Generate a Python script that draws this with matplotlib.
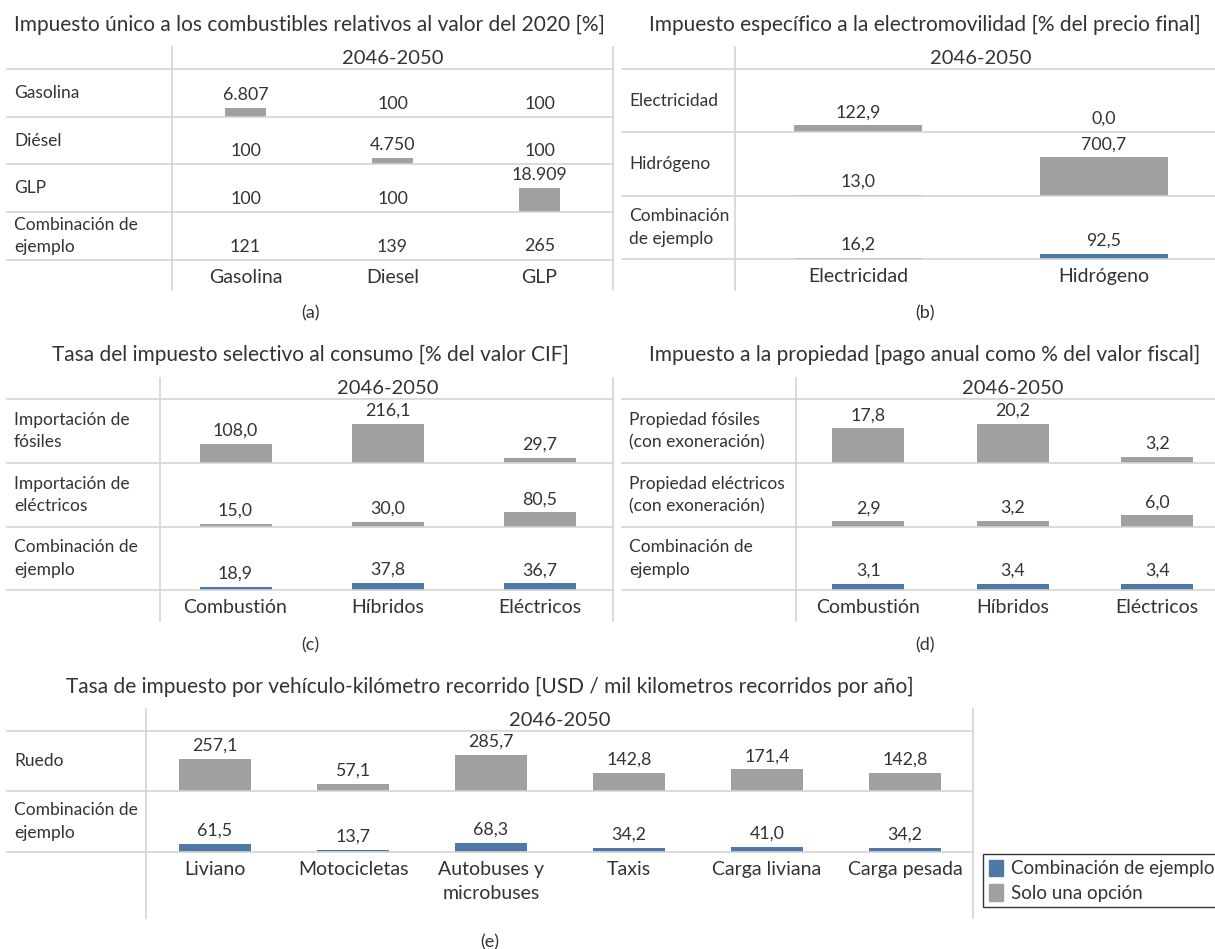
import numpy as np
import matplotlib.pyplot as plt
from matplotlib.lines import Line2D
from matplotlib.patches import Patch

plt.rcParams['font.family'] = ['Lato', 'DejaVu Sans']

# Datos de cada tabla
a_columnas = ['Gasolina', 'Diesel', 'GLP']
a_filas = ['Gasolina', 'Diésel', 'GLP', 'Combinación de\nejemplo']
a_valores = [[6807, 100, 100],
             [100, 4750, 100],
             [100, 100, 18909],
             [121, 139, 265]]

b_columnas = ['Electricidad', 'Hidrógeno']
b_filas = ['Electricidad', 'Hidrógeno', 'Combinación\nde ejemplo']
b_valores = [[122.9, 0.0],
             [13.0, 700.7],
             [16.2, 92.5]]

c_columnas = ['Combustión', 'Híbridos', 'Eléctricos']
c_filas = ['Importación de\nfósiles', 'Importación de\neléctricos', 'Combinación de\nejemplo']
c_valores = [[108.0, 216.1, 29.7],
             [15.0, 30.0, 80.5],
             [18.9, 37.8, 36.7]]

d_columnas = ['Combustión', 'Híbridos', 'Eléctricos']
d_filas = ['Propiedad fósiles\n(con exoneración)', 'Propiedad eléctricos\n(con exoneración)',
           'Combinación de\nejemplo']
d_valores = [[17.8, 20.2, 3.2],
             [2.9, 3.2, 6.0],
             [3.1, 3.4, 3.4]]

e_columnas = ['Liviano', 'Motocicletas', 'Autobuses y\nmicrobuses', 'Taxis', 'Carga liviana', 'Carga pesada']
e_filas = ['Ruedo', 'Combinación de\nejemplo']
e_valores = [[257.1, 57.1, 285.7, 142.8, 171.4, 142.8],
             [61.5, 13.7, 68.3, 34.2, 41.0, 34.2]]

periodo = '2046-2050'
leyenda = ['Combinación de ejemplo', 'Solo una opción']

GRIS = '#a0a0a0'
AZUL = '#4e79a7'
LINEA = '#d4d4d4'
TEXTO = '#333333'

W, H = 1215, 949
fig = plt.figure(figsize=(W / 100, H / 100), dpi=100)


def fx(x):
    return x / W


def fy(y):
    return 1 - y / H


def linea(x1, y1, x2, y2):
    fig.add_artist(Line2D([fx(x1), fx(x2)], [fy(y1), fy(y2)], color=LINEA, lw=1.2))


def texto(x, y, s, **kw):
    fig.text(fx(x), fy(y), s, color=TEXTO, **kw)


def fmt_miles(v):
    return f'{v:,.0f}'.replace(',', '.')


def fmt_decimal(v):
    return f'{v:.1f}'.replace('.', ',')


def panel(titulo, pos_titulo, sub, pos_sub, filas, columnas, valores, fmt,
          x0, xl, xv, col_w, x_fin, y_top, y_filas, y_fondo, bar_px, ymax, borde=None):
    texto(pos_titulo[0], pos_titulo[1], titulo, ha='center', va='center', fontsize=15)
    texto(pos_sub[0], pos_sub[1], sub, ha='center', va='center', fontsize=13)
    ncol = len(columnas)
    linea(xv, y_top, xv, y_fondo)
    if borde is not None:
        linea(borde, y_top, borde, y_fondo)
    texto(xv + ncol * col_w / 2, (y_top + y_filas[0]) / 2, periodo,
          ha='center', va='center', fontsize=14.5)
    for y in y_filas:
        linea(x0, y, x_fin, y)
    pos = np.arange(ncol)
    for i, fila in enumerate(filas):
        ya, yb = y_filas[i], y_filas[i + 1]
        texto(xl, (ya + yb) / 2, fila, ha='left', va='center', fontsize=12.5, linespacing=1.5)
        ax = fig.add_axes([fx(xv), fy(yb), ncol * col_w / W, (yb - ya) / H])
        ax.set_xlim(-0.5, ncol - 0.5)
        ax.set_ylim(0, ymax)
        ax.axis('off')
        color = AZUL if fila.startswith('Combinación') else GRIS
        ax.bar(pos, valores[i], width=bar_px / col_w, color=color)
        for p, v in zip(pos, valores[i]):
            ax.annotate(fmt(v), (p, v), xytext=(0, 9.5), textcoords='offset points',
                        ha='center', va='center', fontsize=12.8, color=TEXTO)
    for j, col in enumerate(columnas):
        texto(xv + (j + 0.5) * col_w, y_filas[-1] + 9, col, ha='center', va='top',
              fontsize=14, linespacing=1.5)


panel('Impuesto único a los combustibles relativos al valor del 2020 [%]', (309, 25), '(a)', (311, 313),
      a_filas, a_columnas, a_valores, fmt_miles,
      7, 14, 172, 147, 612, 47, [69, 117, 164, 212, 260], 290, 41, 37740, borde=613)

panel('Impuesto específico a la electromovilidad [% del precio final]', (925, 25), '(b)', (925, 313),
      b_filas, b_columnas, b_valores, fmt_decimal,
      622, 629, 735, 246, W, 47, [69, 132, 196, 259], 290, 128, 1160)

panel('Tasa del impuesto selectivo al consumo [% del valor CIF]', (310, 355), '(c)', (310, 645),
      c_filas, c_columnas, c_valores, fmt_decimal,
      7, 14, 159.5, 152, 612, 378, [399, 463, 527, 590], 621, 72, 355, borde=613)

panel('Impuesto a la propiedad [pago anual como % del valor fiscal]', (925, 355), '(d)', (925, 645),
      d_filas, d_columnas, d_valores, fmt_decimal,
      622, 629, 796, 144.5, W, 378, [399, 463, 527, 590], 621, 72, 33)

panel('Tasa de impuesto por vehículo-kilómetro recorrido [USD / mil kilometros recorridos por año]',
      (490, 687), '(e)', (490, 942),
      e_filas, e_columnas, e_valores, fmt_decimal,
      7, 14, 146, 138, 971, 709, [731, 791, 852], 918, 72, 476, borde=973)

# Leyenda (queda cortada en el borde derecho, como en el original)
manejadores = [Patch(color=AZUL, label=leyenda[0]), Patch(color=GRIS, label=leyenda[1])]
leg = fig.legend(handles=manejadores, loc='upper left', bbox_to_anchor=(fx(983), fy(854)),
                 frameon=True, fancybox=False, framealpha=1, edgecolor='#333333',
                 fontsize=13.5, handlelength=0.75, handleheight=1.0, handletextpad=0.45,
                 borderpad=0.3, labelspacing=0.35, borderaxespad=0)
leg.get_frame().set_linewidth(1.0)
for t in leg.get_texts():
    t.set_color(TEXTO)

fig.savefig('out.png', dpi=100)
